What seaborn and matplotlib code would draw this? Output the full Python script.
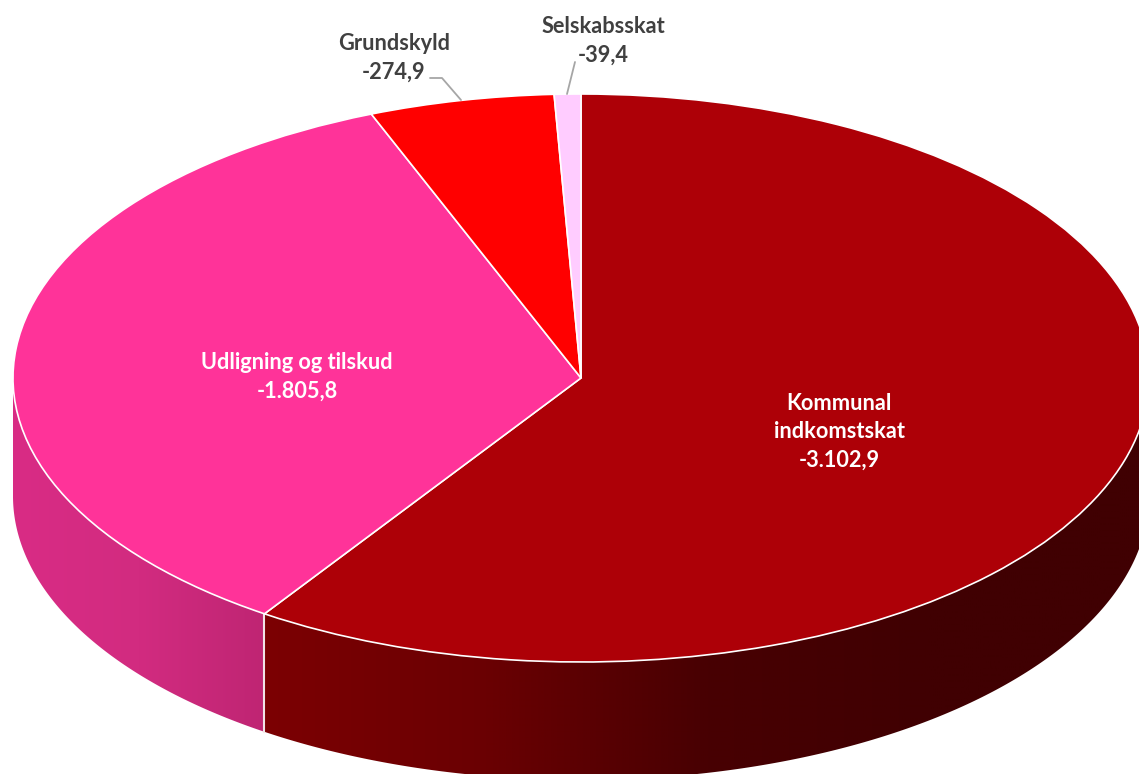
import numpy as np
import matplotlib
matplotlib.use("Agg")
import matplotlib.pyplot as plt
from matplotlib.patches import Polygon
import seaborn as sns

categories = ["Kommunal\nindkomstskat", "Udligning og tilskud", "Grundskyld", "Selskabsskat"]
values = [3102.9, 1805.8, 274.9, 39.4]
value_labels = ["-3.102,9", "-1.805,8", "-274,9", "-39,4"]
top_colors = ["#AD0007", "#FF3399", "#FF0000", "#FFCCFF"]
wall_stops = {0: ["#7C0003", "#6A0002", "#480002", "#400002", "#400002"],
              1: ["#D92C85", "#D22B80", "#BF2573"]}
label_colors = ["white", "white", "#404040", "#404040"]

W, H = 1139, 774
CX, CY, RX, RY, DEPTH = 581, 378, 568, 284, 118

sns.set_theme(style="white")
plt.rcParams["font.family"] = ["Lato", "DejaVu Sans"]

fig = plt.figure(figsize=(W / 100, H / 100), dpi=100)
ax = fig.add_axes([0, 0, 1, 1])


def px(x, y):
    return (x - CX) / RX, (CY - y) / RY


# top face
wedges, _ = ax.pie(values, colors=top_colors, startangle=90, counterclock=False, radius=1,
                   wedgeprops=dict(edgecolor="white", linewidth=1.2, zorder=5))

# side wall, from the slice angles
d = DEPTH / RY
cum = np.cumsum([0] + values) / sum(values) * 360
seam_deg = (90 - cum[1]) % 360
spans = {0: (seam_deg, 360), 1: (180, seam_deg)}
for i, stops in wall_stops.items():
    lo, hi = spans[i]
    t = np.radians(np.linspace(lo, hi, 240))
    x, y = np.cos(t), np.sin(t)
    outline = np.c_[np.r_[x, x[::-1]], np.r_[y, (y - d)[::-1]]]
    grad = np.array(sns.blend_palette(stops, 256))[None, :, :]
    im = ax.imshow(grad, extent=(x.min(), x.max(), (y - d).min(), y.max()),
                   aspect="auto", interpolation="bilinear", zorder=1)
    im.set_clip_path(Polygon(outline, transform=ax.transData))

ax.set_aspect("auto")
ax.set_xlim((0 - CX) / RX, (W - CX) / RX)
ax.set_ylim((CY - H) / RY, CY / RY)
ax.axis("off")

# seam between the two visible walls
seam = np.radians(seam_deg)
ax.plot([np.cos(seam)] * 2, [np.sin(seam), np.sin(seam) - d], color="#F2E4E8", lw=1.5, zorder=3)

# labels
fs = 15.7
pos = [(839, 432), (297, 377), (394, 58), (603, 41)]
for cat, val, col, (lx, ly) in zip(categories, value_labels, label_colors, pos):
    x, y = px(lx, ly)
    ax.text(x, y, f"{cat}\n{val}", color=col, fontsize=fs, fontweight="bold", ha="center",
            va="center", linespacing=1.43, zorder=8)

# leader lines
for pts in ([(430, 78), (442, 78), (461, 100)], [(575, 62), (567, 94)]):
    q = np.array([px(*p) for p in pts])
    ax.plot(q[:, 0], q[:, 1], color="#A6A6A6", lw=1.3, zorder=8)

fig.savefig("out.png", dpi=100, facecolor="white")
